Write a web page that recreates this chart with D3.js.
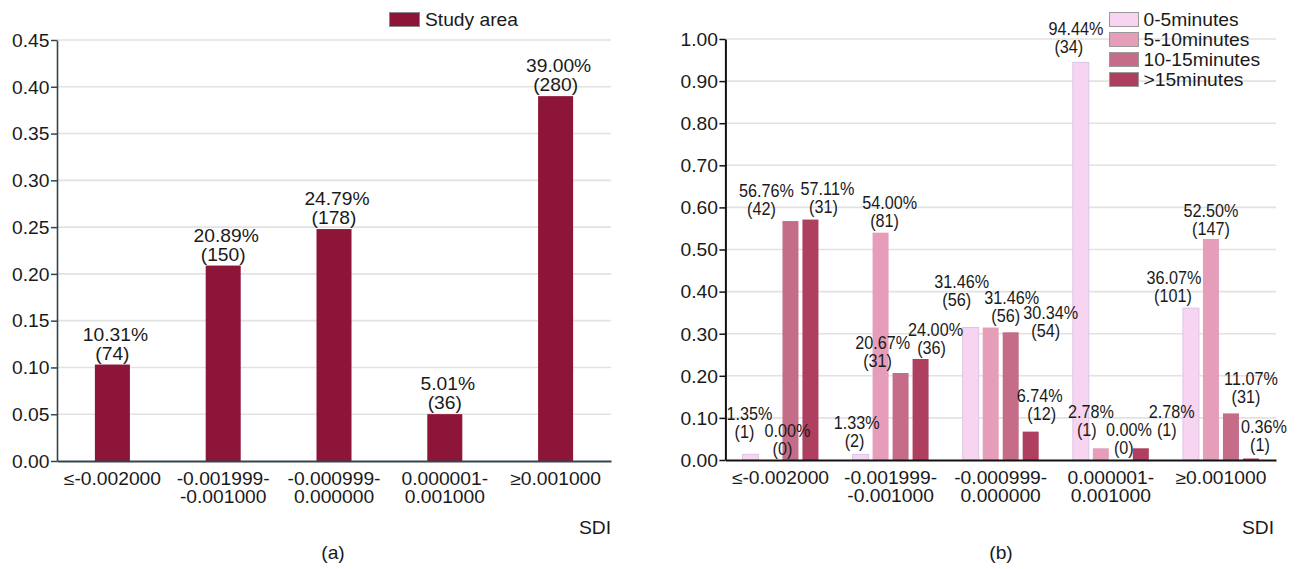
<!DOCTYPE html>
<html><head><meta charset="utf-8">
<script src="https://cdn.jsdelivr.net/npm/d3@7"></script>
<style>
html,body{margin:0;padding:0;background:#fff;}
svg text{font-family:"Liberation Sans",Arial,sans-serif;font-size:17.5px;fill:#1a1a1a;}
</style></head>
<body><svg id="c" width="1298" height="569"></svg>
<script>
// ---- data ----
const categories = ["≤-0.002000", "-0.001999-\n-0.001000", "-0.000999-\n0.000000", "0.000001-\n0.001000", "≥0.001000"];
const studyPct = [10.31, 20.89, 24.79, 5.01, 39.00];
const studyCount = [74, 150, 178, 36, 280];
const seriesNames = ["0-5minutes", "5-10minutes", "10-15minutes", ">15minutes"];
const pct0to5 = [1.35, 1.33, 31.46, 94.44, 36.07];
const cnt0to5 = [1, 2, 56, 34, 101];
const pct5to10 = [0.00, 54.00, 31.46, 2.78, 52.50];
const cnt5to10 = [0, 81, 56, 1, 147];
const pct10to15 = [56.76, 20.67, 30.34, 0.00, 11.07];
const cnt10to15 = [42, 31, 54, 0, 31];
const pctOver15 = [57.11, 24.00, 6.74, 2.78, 0.36];
const cntOver15 = [31, 36, 12, 1, 1];
const leftTicks = [0, 0.05, 0.10, 0.15, 0.20, 0.25, 0.30, 0.35, 0.40, 0.45];
const rightTicks = [0, 0.1, 0.2, 0.3, 0.4, 0.5, 0.6, 0.7, 0.8, 0.9, 1.0];

// ---- label layout nudges (right chart): [pct dx, count dx, gap above bar] per series, per group ----
const labelNudge = [
  [[-1,-6,16],[-4,-6,7],[-9,-14,22],[-5,-12,9],[-17,-18,6]],
  [[17,12,5],[9,4,6],[21,15,6],[-10,-14,12],[0,0,4]],
  [[-24,-29,6],[-18,-23,6],[40,35,-5],[8,3,6],[20,15,10]],
  [[17,13,7],[15,11,5],[9,11,12],[31,26,12],[13,9,7]]
];

const SX = 1.1; // horizontal stretch of the reference lettering
const svg = d3.select("#c");
svg.append("rect").attr("width",1298).attr("height",569).attr("fill","#fff");

function txt(g, x, y, s, anchor, sx, fs) {
  const t = g.append("text").attr("transform", `translate(${x},${y}) scale(${sx || SX},1)`)
    .attr("text-anchor", anchor || "middle").text(s);
  if (fs) t.style("font-size", fs + "px");
  return t;
}

function drawFrame(x0, x1, y, ticks, axisColor, axisW) {
  const g = svg.append("g");
  g.selectAll("line.grid").data(ticks.filter(t => t > 0)).join("line")
    .attr("x1", x0).attr("x2", x1).attr("y1", d => y(d)).attr("y2", d => y(d))
    .attr("stroke", "#e2e2e2").attr("stroke-width", 1.6);
  const ya = g.append("g").attr("transform", `translate(${x0},0)`)
    .call(d3.axisLeft(y).tickValues(ticks).tickFormat(d3.format(".2f")).tickSize(6).tickSizeOuter(0));
  ya.select(".domain").attr("stroke", axisColor).attr("stroke-width", axisW);
  ya.selectAll(".tick line").attr("stroke", axisColor).attr("stroke-width", 1.5);
  ya.selectAll(".tick text").attr("x", -7.5 / SX).attr("dy", "0.36em")
    .attr("transform", `scale(${SX},1)`).style("font-size", "17.5px").attr("fill", "#1a1a1a");
  return g;
}

function drawXAxis(x, yPos, axisColor) {
  const xa = svg.append("g").attr("transform", `translate(0,${yPos})`)
    .call(d3.axisBottom(x).tickSize(0).tickSizeOuter(0).tickFormat(""));
  xa.select(".domain").attr("stroke", axisColor).attr("stroke-width", 2.2);
  xa.selectAll(".tick").each(function(d) {
    const t = d3.select(this).append("text").attr("transform", `scale(${SX},1)`)
      .attr("text-anchor", "middle").attr("fill", "#1a1a1a").style("font-size", "17.5px");
    d.split("\n").forEach((line, i) => t.append("tspan").attr("x", 0).attr("y", 24 + i * 18).text(line));
  });
}

// ================= (a) =================
const xA = d3.scaleBand().domain(categories).range([57, 611]).paddingInner(0.684).paddingOuter(0.342);
const yA = d3.scaleLinear().domain([0, 0.45]).range([461, 40]);
drawFrame(57, 611, yA, leftTicks, "#34454d", 1.6);
const gA = svg.append("g");
gA.selectAll("rect").data(studyPct).join("rect")
  .attr("x", (d, i) => xA(categories[i])).attr("width", xA.bandwidth())
  .attr("y", d => yA(d / 100)).attr("height", d => yA(0) - yA(d / 100))
  .attr("fill", "#8d1538");
studyPct.forEach((v, i) => {
  const cx = xA(categories[i]) + xA.bandwidth() / 2;
  const yb = yA(v / 100) - 5;
  txt(gA, cx + 3, yb - 19, v.toFixed(2) + "%", "middle", 1.04, 18.5);
  txt(gA, cx, yb, "(" + studyCount[i] + ")", "middle", 1.04, 18.5);
});
drawXAxis(xA, 461, "#34454d");
svg.append("rect").attr("x", 389.5).attr("y", 12.5).attr("width", 30).attr("height", 14)
  .attr("fill", "#8d1538").attr("stroke", "#8a8a8a").attr("stroke-width", 1);
txt(svg, 425, 26, "Study area", "start");
txt(svg, 611, 534, "SDI", "end");
txt(svg, 333, 559, "(a)");

// ================= (b) =================
const xB = d3.scaleBand().domain(categories).range([725.4, 1276]).paddingInner(0.31).paddingOuter(0.155);
const xS = d3.scaleBand().domain(seriesNames).range([0, xB.bandwidth()]).paddingInner(0.2).paddingOuter(0);
const yB = d3.scaleLinear().domain([0, 1]).range([460, 39]);
const colors = d3.scaleOrdinal().domain(seriesNames).range(["#f7d5f1", "#e59dba", "#c56d88", "#ae3f5f"]);
const seriesPct = [pct0to5, pct5to10, pct10to15, pctOver15];
const seriesCnt = [cnt0to5, cnt5to10, cnt10to15, cntOver15];
drawFrame(725.4, 1276, yB, rightTicks, "#111", 2);
const gB = svg.append("g");
seriesNames.forEach((s, si) => {
  const vals = seriesPct[si];
  gB.append("g").selectAll("rect").data(vals).join("rect")
    .attr("x", (d, i) => xB(categories[i]) + xS(s)).attr("width", xS.bandwidth())
    .attr("y", d => yB(d / 100)).attr("height", d => yB(0) - yB(d / 100))
    .attr("fill", colors(s))
    .attr("stroke", si === 0 ? "#dcc4e6" : "none").attr("stroke-width", 1);
});
seriesNames.forEach((s, si) => {
  seriesPct[si].forEach((v, i) => {
    const cx = xB(categories[i]) + xS(s) + xS.bandwidth() / 2;
    const [dxP, dxC, gap] = labelNudge[si][i];
    const yb = yB(v / 100) - gap;
    txt(gB, cx + dxP, yb - 18, v.toFixed(2) + "%", "middle", 0.9, 18);
    txt(gB, cx + dxC, yb, "(" + seriesCnt[si][i] + ")", "middle", 0.9, 18);
  });
});
drawXAxis(xB, 460, "#111");
seriesNames.forEach((s, i) => {
  svg.append("rect").attr("x", 1109.5).attr("y", 12.5 + i * 20).attr("width", 29).attr("height", 14)
    .attr("fill", colors(s)).attr("stroke", "#9a9a9a").attr("stroke-width", 1);
  txt(svg, 1143.5, 26 + i * 20, s, "start");
});
txt(svg, 1274, 534, "SDI", "end");
txt(svg, 1001, 559, "(b)");
</script></body></html>
